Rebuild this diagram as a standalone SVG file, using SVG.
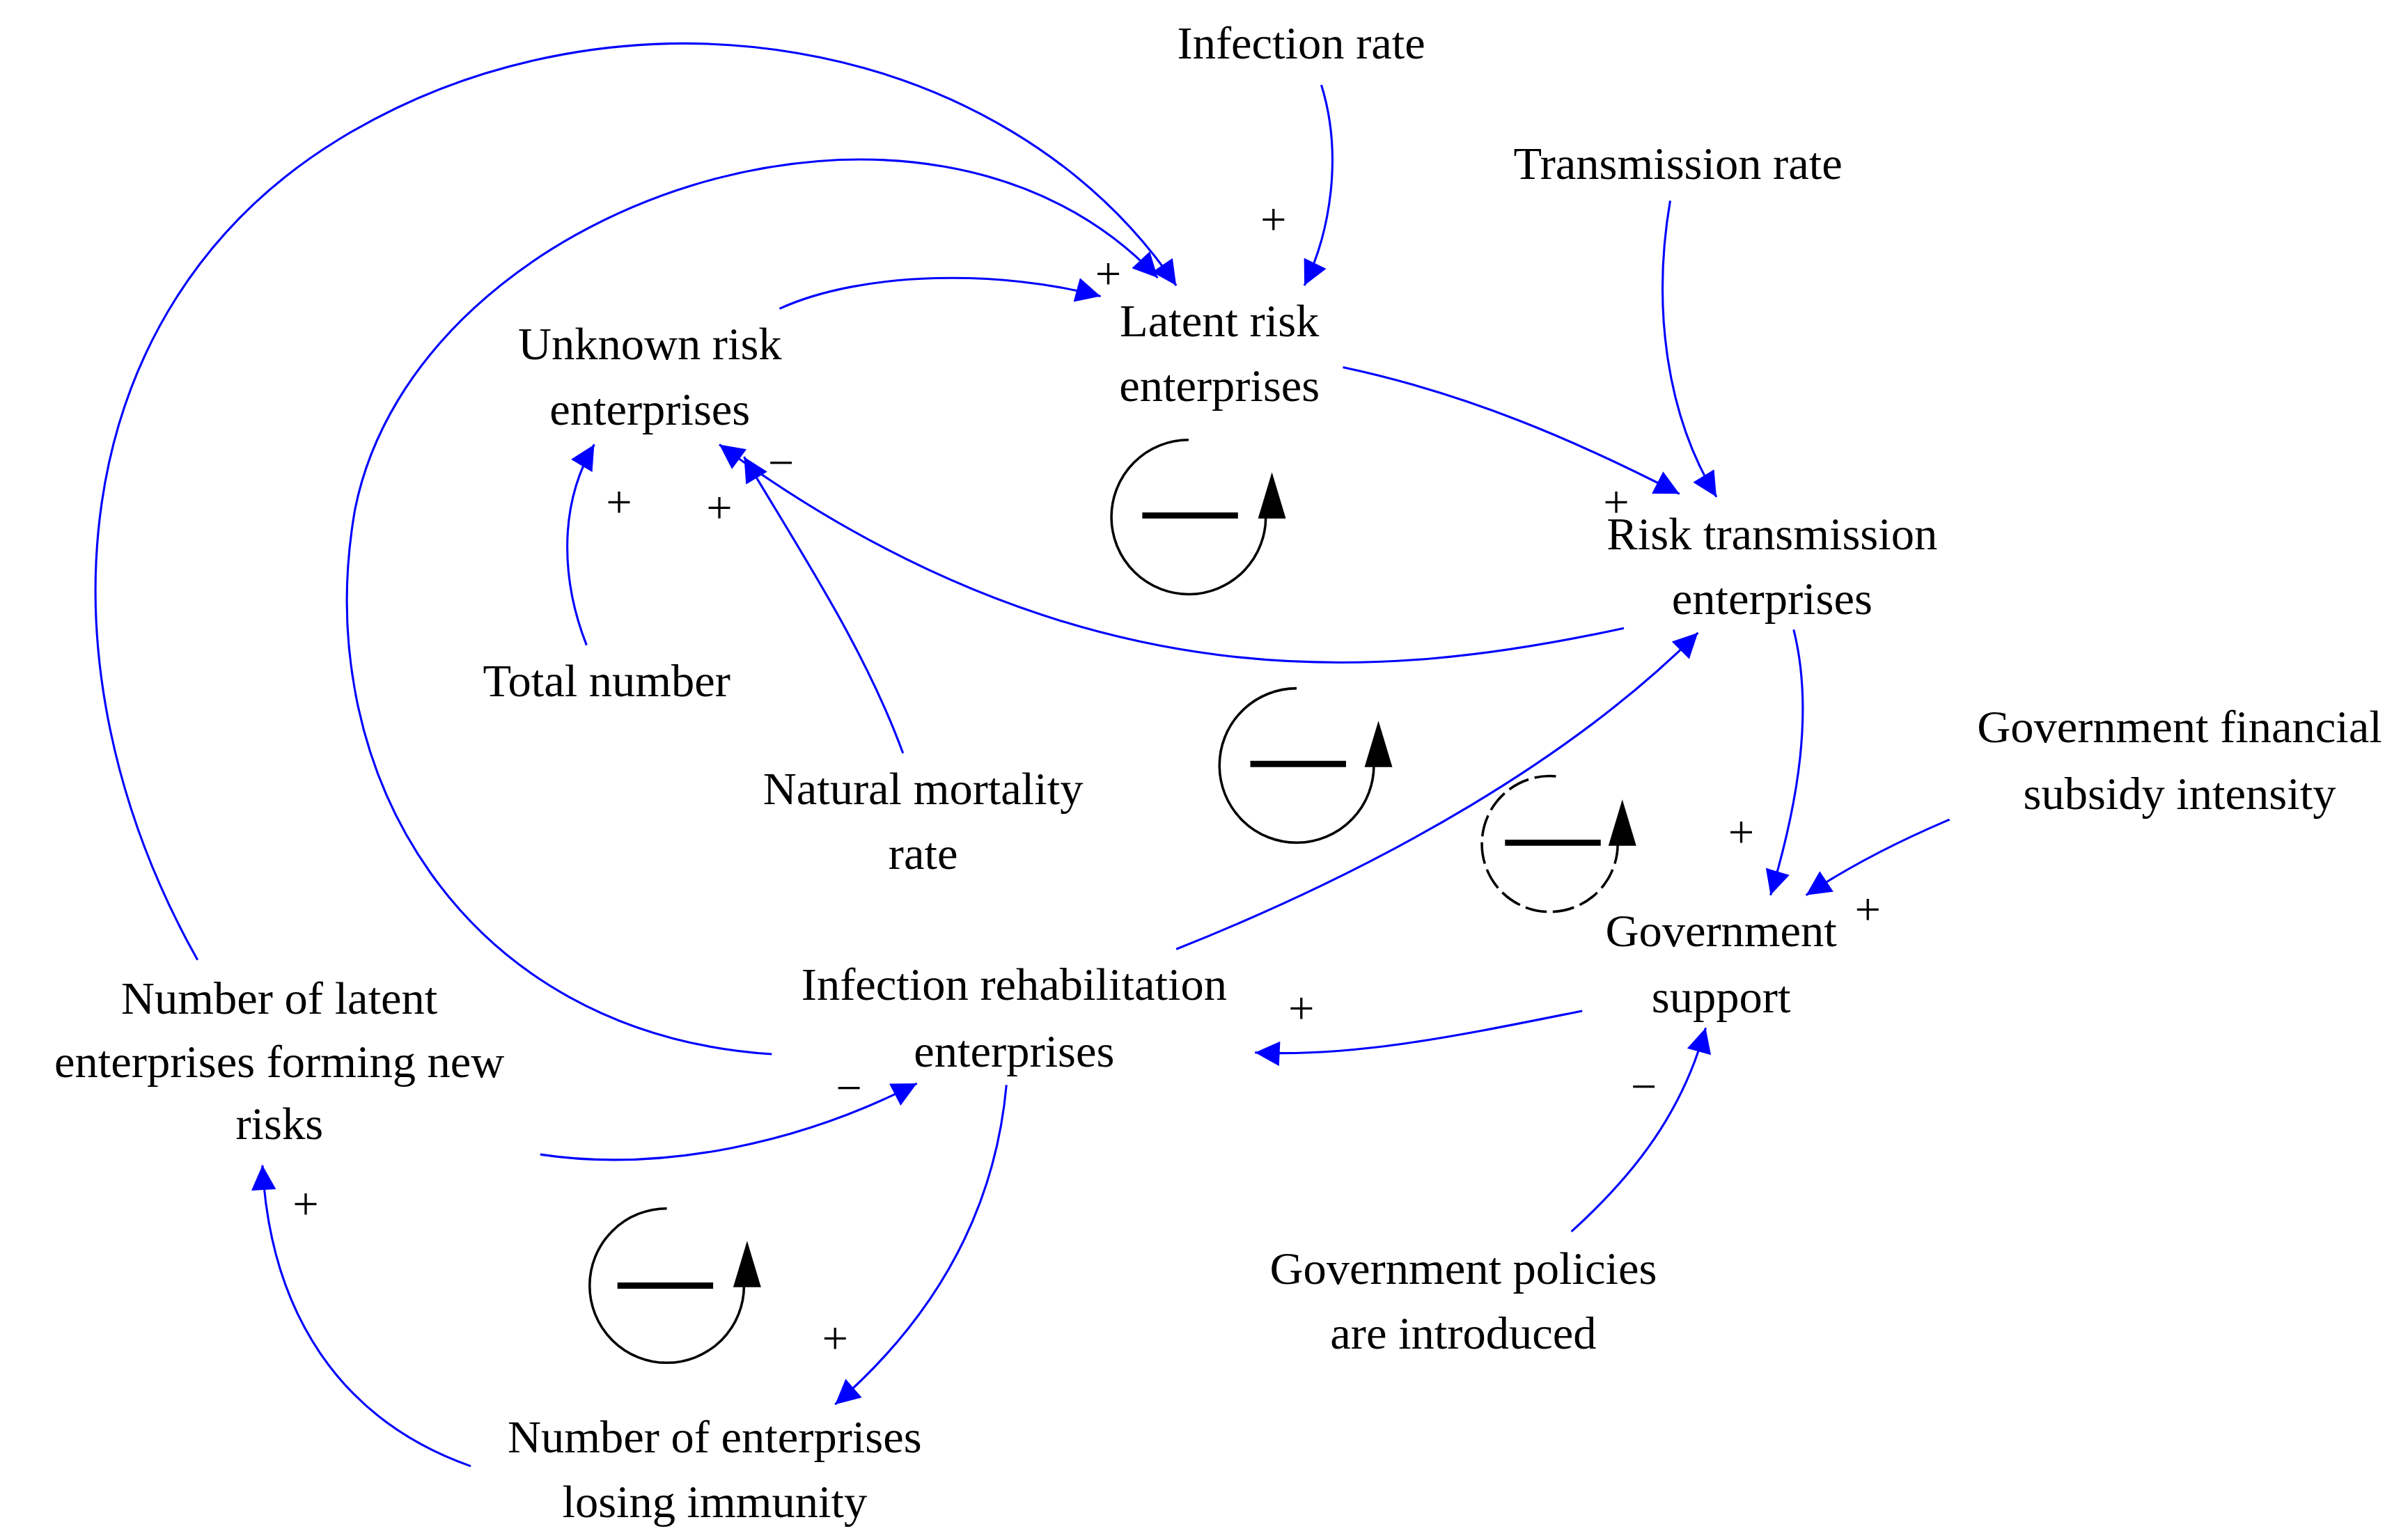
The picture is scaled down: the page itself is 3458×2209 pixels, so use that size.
<svg xmlns="http://www.w3.org/2000/svg" width="3458" height="2209" viewBox="0 0 3458 2209">
<style>
text{font-family:"Liberation Serif","Times New Roman",serif;font-size:30px;fill:#000;text-anchor:middle}
.e{fill:none;stroke:#0000ff;stroke-width:1.4}
.l{fill:none;stroke:#000;stroke-width:1.6}
</style>
<defs>
<marker id="a" viewBox="0 0 10 10" refX="10" refY="5" markerWidth="24" markerHeight="16" markerUnits="userSpaceOnUse" orient="auto"><path d="M0,0L10,5L0,10z" fill="#0000ff"/></marker>
</defs>
<rect width="3458" height="2209" fill="#fff"/>
<g transform="scale(2.2167)">
<g id="connectors">
<path class="e" marker-end="url(#a)" d="M856,55 C870,100 862,150 845,185"/>
<path class="e" marker-end="url(#a)" d="M1082,130 C1070,200 1080,270 1112,322"/>
<path class="e" marker-end="url(#a)" d="M505,200 C560,175 650,175 713,192"/>
<path class="e" marker-end="url(#a)" d="M870,238 C950,255 1020,285 1088,320"/>
<path class="e" marker-end="url(#a)" d="M1052,407 C900,440 700,460 466,288"/>
<path class="e" marker-end="url(#a)" d="M380,418 C365,380 360,330 385,288"/>
<path class="e" marker-end="url(#a)" d="M585,488 C560,420 520,360 482,296"/>
<path class="e" marker-end="url(#a)" d="M128,622 C20,430 40,200 220,90 C400,-20 650,20 762,185"/>
<path class="e" marker-end="url(#a)" d="M500,683 C300,670 200,500 230,330 C270,130 600,20 750,180"/>
<path class="e" marker-end="url(#a)" d="M1162,408 C1175,460 1165,520 1147,580"/>
<path class="e" marker-end="url(#a)" d="M1263,531 C1230,545 1200,560 1170,580"/>
<path class="e" marker-end="url(#a)" d="M1025,655 C950,670 880,685 813,682"/>
<path class="e" marker-end="url(#a)" d="M1018,798 C1060,760 1090,720 1105,666"/>
<path class="e" marker-end="url(#a)" d="M762,615 C900,560 1020,490 1100,410"/>
<path class="e" marker-end="url(#a)" d="M350,748 C430,760 520,740 594,702"/>
<path class="e" marker-end="url(#a)" d="M652,703 C645,780 610,850 541,910"/>
<path class="e" marker-end="url(#a)" d="M305,950 C220,920 175,850 170,755"/>
</g>
<g id="signs">
<text x="825" y="152">+</text><text x="718" y="187">+</text><text x="401" y="335">+</text><text x="466" y="339">+</text><text x="506" y="310">−</text>
<text x="1047" y="335">+</text><text x="1128" y="549">+</text><text x="1210" y="599">+</text><text x="843" y="663">+</text><text x="1065" y="714">−</text>
<text x="550" y="715">−</text><text x="198" y="790">+</text><text x="541" y="877">+</text>
</g>
<g id="loops">
<g id="loop1"><path class="l" d="M770,285 A50,50 0 1 0 820,334"/><line x1="740" y1="334" x2="802" y2="334" stroke="#000" stroke-width="4"/><path d="M815,336 L824,306 L833,336z"/></g>
<g id="loop2"><path class="l" d="M840,446 A50,50 0 1 0 890,495"/><line x1="810" y1="495" x2="872" y2="495" stroke="#000" stroke-width="4"/><path d="M884,497 L893,467 L902,497z"/></g>
<g id="loop3"><path class="l" stroke-dasharray="14,4" d="M1008,503 A44,44 0 1 0 1048,546"/><line x1="975" y1="546" x2="1037" y2="546" stroke="#000" stroke-width="4"/><path d="M1042,548 L1051,518 L1060,548z"/></g>
<g id="loop4"><path class="l" d="M432,783 A50,50 0 1 0 482,833"/><line x1="400" y1="833" x2="462" y2="833" stroke="#000" stroke-width="4"/><path d="M475,834 L484,804 L493,834z"/></g>
</g>
<g id="n-infection-rate"><text x="843" y="38">Infection rate</text></g>
<g id="n-transmission-rate"><text x="1087" y="116">Transmission rate</text></g>
<g id="n-latent"><text x="790" y="218">Latent risk</text><text x="790" y="260">enterprises</text></g>
<g id="n-unknown"><text x="421" y="233">Unknown risk</text><text x="421" y="275">enterprises</text></g>
<g id="n-risk-trans"><text x="1148" y="356">Risk transmission</text><text x="1148" y="398">enterprises</text></g>
<g id="n-total"><text x="393" y="451">Total number</text></g>
<g id="n-mortality"><text x="598" y="521">Natural mortality</text><text x="598" y="563">rate</text></g>
<g id="n-subsidy"><text x="1412" y="481">Government financial</text><text x="1412" y="524">subsidy intensity</text></g>
<g id="n-gov-support"><text x="1115" y="613">Government</text><text x="1115" y="656">support</text></g>
<g id="n-rehab"><text x="657" y="648">Infection rehabilitation</text><text x="657" y="691">enterprises</text></g>
<g id="n-new-risks"><text x="181" y="657">Number of latent</text><text x="181" y="698">enterprises forming new</text><text x="181" y="738">risks</text></g>
<g id="n-policies"><text x="948" y="832">Government policies</text><text x="948" y="874">are introduced</text></g>
<g id="n-losing"><text x="463" y="941">Number of enterprises</text><text x="463" y="983">losing immunity</text></g>
</g>
</svg>
